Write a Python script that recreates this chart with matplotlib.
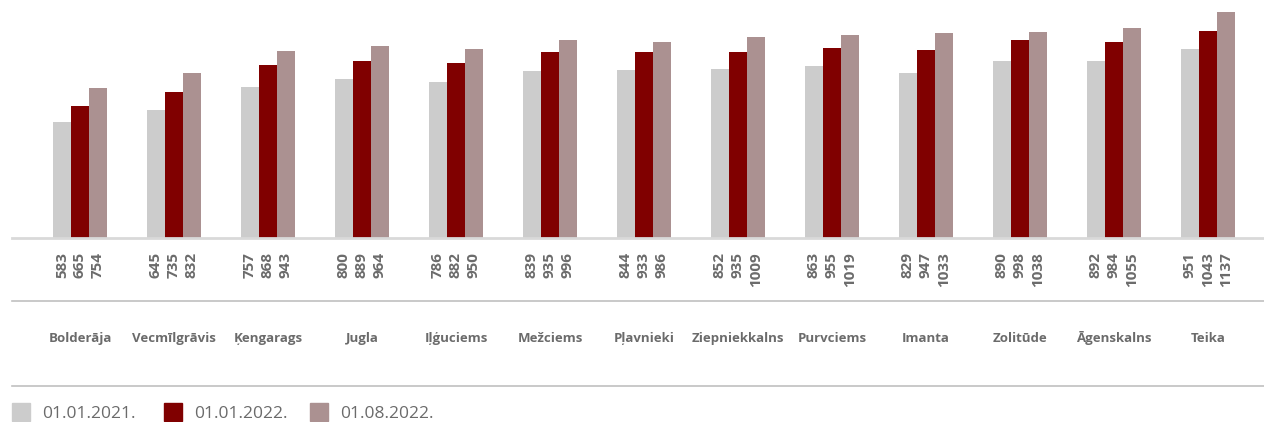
import numpy as np
import matplotlib.pyplot as plt
from matplotlib.patches import Rectangle
from matplotlib.lines import Line2D

districts = ['Bolderāja', 'Vecmīlgrāvis', 'Ķengarags', 'Jugla', 'Iļģuciems', 'Mežciems',
             'Pļavnieki', 'Ziepniekkalns', 'Purvciems', 'Imanta', 'Zolitūde', 'Āgenskalns', 'Teika']
v2021 = [583, 645, 757, 800, 786, 839, 844, 852, 863, 829, 890, 892, 951]
v2022 = [665, 735, 868, 889, 882, 935, 933, 935, 955, 947, 998, 984, 1043]
v2022_08 = [754, 832, 943, 964, 950, 996, 986, 1009, 1019, 1033, 1038, 1055, 1137]
series_labels = ['01.01.2021.', '01.01.2022.', '01.08.2022.']
colors = ['#cccccc', '#800000', '#ab9191']

W, H = 1264, 422
fig = plt.figure(figsize=(W / 100, H / 100), dpi=100)
ax = fig.add_axes([12 / W, 1 - 238 / H, (W - 12) / W, 238 / H])

x = np.arange(len(districts))
bw = 18 / 94
for k, vals in enumerate([v2021, v2022, v2022_08]):
    ax.bar(x + (k - 1) * bw, vals, width=bw, color=colors[k], zorder=2)

ax.set_xlim((12 - 80) / 94, (W - 80) / 94)
ax.set_ylim(0, 1197)
for s in ['top', 'right', 'left']:
    ax.spines[s].set_visible(False)
ax.spines['bottom'].set_color('#d9d9d9')
ax.spines['bottom'].set_linewidth(2)
ax.set_xticks([])
ax.set_yticks([])

txt = '#6b6b6b'
# value labels under the axis
for k, vals in enumerate([v2021, v2022, v2022_08]):
    for i, v in enumerate(vals):
        ax.text(i + (k - 1) * bw, -14 / 238, str(v), rotation=90, ha='center', va='top',
                fontsize=11, fontweight='bold', color=txt, family='Open Sans',
                transform=ax.get_xaxis_transform(), clip_on=False)

# separator lines
for yy in [301, 386]:
    fig.add_artist(Line2D([12 / W, 1], [1 - yy / H] * 2, color='#c0c0c0', lw=1.2))

# district names
for i, name in enumerate(districts):
    ax.text(i, -(338 - 238) / 238, name, ha='center', va='center', fontsize=9.5,
            fontweight='bold', color=txt, family='Open Sans',
            transform=ax.get_xaxis_transform(), clip_on=False)

# legend
leg_x = [12, 164, 310]
for k in range(3):
    fig.add_artist(Rectangle((leg_x[k] / W, 1 - 421 / H), 18 / W, 18 / H,
                             transform=fig.transFigure, color=colors[k]))
    fig.text((leg_x[k] + 30) / W, 1 - 414 / H, series_labels[k], ha='left', va='center',
             fontsize=12.5, color=txt, family='Open Sans')

fig.savefig('out.png', dpi=100)
